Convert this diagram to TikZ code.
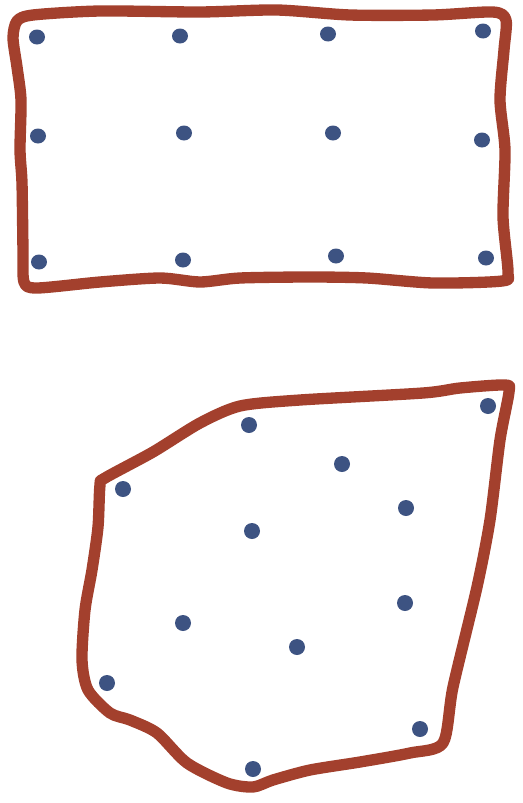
\documentclass[tikz,border=0pt]{standalone}
\usepackage{tikz}

\definecolor{rimred}{RGB}{163,64,45}
\definecolor{dotblue}{RGB}{61,83,130}

\tikzset{every picture/.style={line width=0.75pt}}
\tikzset{
  rim/.style={draw=rimred, line width=8.5pt, line cap=round, line join=round},
  pt/.style={fill=dotblue}
}

\begin{document}
\begin{tikzpicture}[x=0.75pt,y=0.75pt,yscale=-1,xscale=1]
\useasboundingbox (0,0) rectangle (522,803);

%Shape: Curve [id:grid_rim] 
\draw [rim] plot [smooth cycle, tension=0.45] coordinates {
  (17,21) (33,15) (100,11) (200,12) (277,10) (350,15) (433,15) (493,12) (506,20)
  (504,50) (500,100) (505,150) (503,217) (508,272) (502,281)
  (433,283) (367,278) (310,277) (240,278) (200,282) (160,278) (100,282) (37,288) (24,282)
  (23,250) (22,183) (20,150) (21,100) (17,67) (13,38)};

%Shape: Curve [id:blob_rim] 
\draw [rim] plot [smooth cycle, tension=0.45] coordinates {
  (105,478) (153,452) (200,423) (240,406) (300,400) (423,393) (460,388) (505,385) (509,392)
  (500,440) (490,520) (477,587) (453,687) (443,743)
  (410,753) (360,762) (310,770) (273,780) (253,787) (227,783) (187,763) (157,733) (130,720) (110,713)
  (88,690) (82,660) (85,610) (92,570) (98,527) (100,485)};

%Dots: grid
\foreach \px/\py in {37/37, 180/36, 328/34, 483/31,
                     38/136, 184/133, 333/133, 482/140,
                     39/262, 183/260, 336/256, 486/258}
  \fill [pt] (\px,\py) ellipse [x radius=8, y radius=7.5];

%Dots: scattered
\foreach \px/\py in {488/406, 249/425, 342/464, 123/489, 406/508, 252/531,
                     405/603, 183/623, 297/647, 107/683, 420/729, 253/769}
  \fill [pt] (\px,\py) ellipse [x radius=8, y radius=8];

\end{tikzpicture}
\end{document}
